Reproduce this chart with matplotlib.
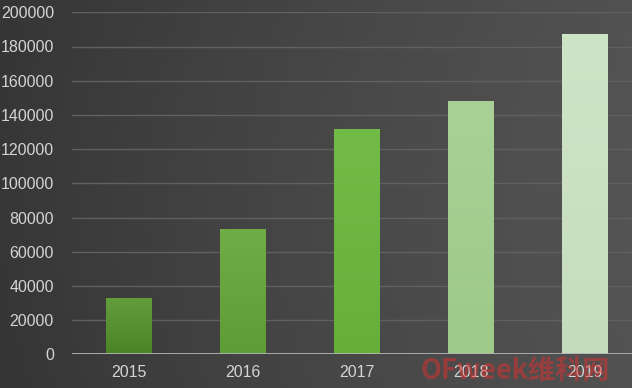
import numpy as np
import matplotlib
matplotlib.use("Agg")
import matplotlib.pyplot as plt
from matplotlib.colors import LinearSegmentedColormap

years = ["2015", "2016", "2017", "2018", "2019"]
values = [33000, 73500, 131500, 148000, 187500]
bottom_colors = ["#4a8426", "#5e9c35", "#66b03a", "#9dca88", "#c6ddbd"]
top_colors = ["#639d3c", "#71ad47", "#72bb46", "#a9d197", "#cee4c6"]
yticks = [0, 20000, 40000, 60000, 80000, 100000, 120000, 140000, 160000, 180000, 200000]

plt.rcParams['font.family'] = ['Liberation Sans', 'DejaVu Sans']

fig = plt.figure(figsize=(6.32, 3.88), dpi=100)

# background gradient
bg = fig.add_axes([0, 0, 1, 1], zorder=-10)
xx = np.linspace(0, 1, 400)
yy = np.linspace(0, 1, 250)
X, Y = np.meshgrid(xx, yy)
base = 0.20 + 0.10 * X
vign = 0.03 * (1 - ((X - 0.7) ** 2 + (Y - 0.5) ** 2))
img = np.clip(base + vign, 0, 1)
bg.imshow(np.dstack([img, img, img]), extent=[0, 1, 0, 1], aspect='auto', origin='lower')
bg.axis('off')

ax = fig.add_axes([72 / 632, (388 - 354.3) / 388, 1 - 72 / 632, (354.3 - 12.3) / 388])
ax.patch.set_alpha(0)

x = np.arange(len(years))
bars = ax.bar(x, values, width=0.40, color=bottom_colors, zorder=3)
for b, c0, c1 in zip(bars, bottom_colors, top_colors):
    cmap = LinearSegmentedColormap.from_list("g", [c0, c1])
    grad = np.linspace(0, 1, 100).reshape(-1, 1)
    im = ax.imshow(grad, cmap=cmap, aspect='auto', origin='lower',
                   extent=[b.get_x(), b.get_x() + b.get_width(), 0, b.get_height()],
                   zorder=4)
    im.set_clip_path(b)

ax.set_xlim(-0.5, 4.5 - 10 / 114.3)
ax.set_ylim(0, 200000)
ax.set_yticks(yticks)
ax.set_yticklabels([str(v) for v in yticks])
ax.set_xticks(x)
ax.set_xticklabels(years)
for y in yticks[1:]:
    ax.axhline(y, color="#606060", lw=1.0, zorder=1)
ax.axhline(0, color="#b4b4b4", lw=2.0, zorder=5)
for s in ax.spines.values():
    s.set_visible(False)
ax.tick_params(axis='both', length=0, labelsize=11.5, colors="#d4d4d4")
ax.tick_params(axis='y', pad=13)
ax.tick_params(axis='x', pad=8)

fig.text(420 / 632, 3 / 388, "OFweek维科网", color="#e03030", alpha=0.5, fontsize=19.5,
         fontweight='bold', style='italic', ha='left', va='bottom',
         family=['Noto Sans CJK SC', 'DejaVu Sans'])

fig.savefig("out.png", dpi=100)
